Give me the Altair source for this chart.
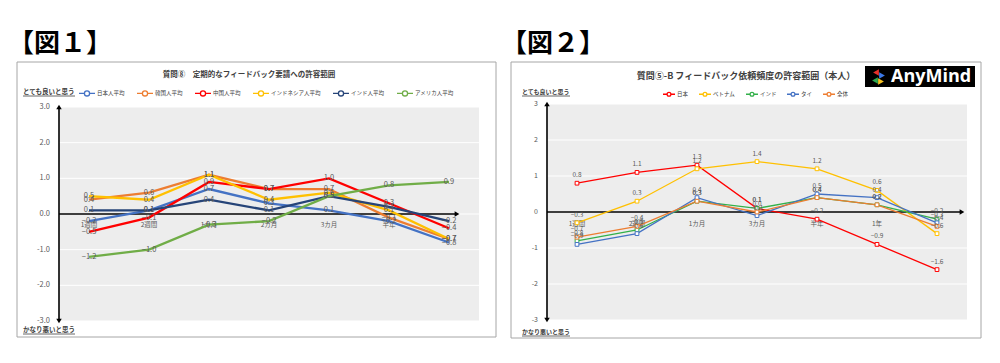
import altair as alt
import pandas as pd

FONT = "Noto Sans CJK JP"

# ---------------- 図1 data ----------------
heading1 = "【図１】"
title1 = "質問⑧　定期的なフィードバック要請への許容範囲"
cats1 = ["1週間", "2週間", "1カ月", "2カ月", "3カ月", "半年", "1年"]
catlabels1 = ["1週間", "2週間", "1カ月", "2カ月", "3カ月", "半年", ""]
series1 = ["日本人平均", "韓国人平均", "中国人平均", "インドネシア人平均", "インド人平均", "アメリカ人平均"]
colors1 = ["#4472C4", "#ED7D31", "#FF0000", "#FFC000", "#264478", "#70AD47"]
japan1 = [-0.2, 0.1, 0.7, 0.3, 0.1, -0.2, -0.8]
korea1 = [0.4, 0.6, 1.1, 0.7, 0.7, -0.1, -0.7]
china1 = [-0.5, -0.1, 0.9, 0.7, 1.0, 0.3, -0.4]
indonesia1 = [0.5, 0.4, 1.1, 0.4, 0.6, 0.1, -0.7]
india1 = [0.1, 0.1, 0.4, 0.1, 0.5, 0.2, -0.2]
usa1 = [-1.2, -1.0, -0.3, -0.2, 0.5, 0.8, 0.9]
yticks1 = [-3, -2, -1, 0, 1, 2, 3]
yticklabels1 = ["-3.0", "-2.0", "-1.0", "0.0", "1.0", "2.0", "3.0"]

# ---------------- 図2 data ----------------
heading2 = "【図２】"
title2 = "質問⑤-B フィードバック依頼頻度の許容範囲（本人）"
cats2 = ["1週間", "2週間", "1カ月", "3カ月", "半年", "1年", "1年以上"]
catlabels2 = ["1週間", "2週間", "1カ月", "3カ月", "半年", "1年", ""]
series2 = ["日本", "ベトナム", "インド", "タイ", "全体"]
colors2 = ["#FF0000", "#FFC000", "#33B04A", "#4472C4", "#ED7D31"]
japan2 = [0.8, 1.1, 1.3, 0.1, -0.2, -0.9, -1.6]
vietnam2 = [-0.3, 0.3, 1.2, 1.4, 1.2, 0.6, -0.6]
india2 = [-0.8, -0.5, 0.3, 0.1, 0.4, 0.2, -0.2]
thai2 = [-0.9, -0.6, 0.4, -0.1, 0.5, 0.4, -0.3]
total2 = [-0.7, -0.4, 0.3, 0.0, 0.4, 0.2, -0.4]
yticks2 = [-3, -2, -1, 0, 1, 2, 3]
yticklabels2 = ["-3", "-2", "-1", "0", "1", "2", "3"]

top_label = "とても良いと思う"
bottom_label = "かなり悪いと思う"

SYMBOL = "M-1,0L-0.32,0M0.32,0L1,0M0.32,0A0.32,0.32,0,1,1,-0.32,0A0.32,0.32,0,1,1,0.32,0"


def one():
    return pd.DataFrame({"k": [0]})


def build(cats, catlabels, series, colors, values, yticks, yticklabels,
          title, heading, L):
    rows = []
    for s, vals in zip(series, values):
        for i, (c, v) in enumerate(zip(cats, vals)):
            rows.append({"cat": c, "s": s, "v": v, "i": i})
    df = pd.DataFrame(rows)
    cat_df = pd.DataFrame({"cat": cats, "lab": catlabels})
    tick_df = pd.DataFrame({"v": yticks, "lab": yticklabels})

    xs = alt.Scale(domain=cats, range=[L["x0"], L["x1"]], paddingInner=0, paddingOuter=0)
    ys = alt.Scale(domain=[-3, 3], range=[L["ybot"], L["ytop"]], nice=False, zero=False)
    X = alt.X("cat:N", scale=xs, axis=None)
    Y = alt.Y("v:Q", scale=ys, axis=None)

    layers = []
    # box border
    layers.append(alt.Chart(one()).mark_rect(fillOpacity=0, stroke="#A6A6A6", strokeWidth=1).encode(
        x=alt.value(L["bx0"]), x2=alt.value(L["bx1"]), y=alt.value(L["by0"]), y2=alt.value(L["by1"])))
    # plot background
    layers.append(alt.Chart(tick_df).mark_rect(color="#EDEDED").transform_aggregate(
        lo="min(v)", hi="max(v)").encode(
        x=alt.value(L["x0"]), x2=alt.value(L["x1"]), y=alt.Y("hi:Q", scale=ys, axis=None), y2="lo:Q"))
    # grid
    layers.append(alt.Chart(tick_df).mark_rule(color="white", strokeWidth=1).encode(
        y=Y, x=alt.value(L["x0"]), x2=alt.value(L["x1"])))
    # y tick labels
    layers.append(alt.Chart(tick_df).mark_text(align="right", baseline="middle", fontSize=L["tickfs"],
                                               color="#595959", font=FONT).encode(
        y=Y, x=alt.value(L["ylabx"]), text="lab:N"))
    # axes arrows
    layers.append(alt.Chart(tick_df).mark_rule(color="black", strokeWidth=1.6).transform_aggregate(
        lo="min(v)", hi="max(v)").encode(
        x=alt.value(L["x0"]), y=alt.Y("hi:Q", scale=ys, axis=None), y2="lo:Q"))
    ends = pd.DataFrame({"v": [yticks[-1], yticks[0]], "shape": ["triangle-up", "triangle-down"]})
    layers.append(alt.Chart(ends).mark_point(filled=True, color="black", size=30, opacity=1).encode(
        x=alt.value(L["x0"]), y=Y, shape=alt.Shape("shape:N", scale=None, legend=None)))
    zero_df = pd.DataFrame({"v": [0]})
    layers.append(alt.Chart(zero_df).mark_rule(color="black", strokeWidth=1.6).encode(
        x=alt.value(L["x0"]), x2=alt.value(L["xarrow"]), y=Y))
    layers.append(alt.Chart(zero_df).mark_point(shape="triangle-right", filled=True, color="black", size=30, opacity=1).encode(
        x=alt.value(L["xarrow"]), y=Y))
    # category labels
    cat_df["v"] = 0
    layers.append(alt.Chart(cat_df).mark_text(baseline="middle", fontSize=L["catfs"], color="#595959",
                                              font=FONT, dy=L["catdy"]).encode(
        x=X, y=Y, text="lab:N"))
    # lines
    if L["points"]:
        line_mark = alt.Chart(df).mark_line(strokeWidth=L["lw"], point=alt.OverlayMarkDef(
            shape="square", filled=False, fill="white", size=14, strokeWidth=1, opacity=1))
    else:
        line_mark = alt.Chart(df).mark_line(strokeWidth=L["lw"])
    layers.append(line_mark.encode(
        x=X, y=Y, order=alt.Order("i:Q"),
        color=alt.Color("s:N", scale=alt.Scale(domain=series, range=colors), legend=alt.Legend(
            title=None, orient="none", legendX=L["legx"], legendY=L["legy"], direction="horizontal",
            columns=len(series), symbolType=SYMBOL, symbolSize=L["symsize"], symbolStrokeWidth=1.3,
            symbolFillColor="white", labelFontSize=L["legfs"], labelFont=FONT, labelColor="#404040",
            columnPadding=L["colpad"], labelOffset=1, padding=0, rowPadding=0))))
    # data labels
    layers.append(alt.Chart(df).mark_text(fontSize=L["datafs"], color="#595959", font=FONT,
                                          dy=L["datady"], baseline="middle").encode(
        x=X, y=Y, text=alt.Text("v:Q", format=".1f")))
    # texts
    layers.append(alt.Chart(one()).mark_text(align="left", baseline="alphabetic", fontSize=26,
                                             fontWeight="bold", color="black", font=FONT).encode(
        x=alt.value(L["hx"]), y=alt.value(44), text=alt.value(heading)))
    layers.append(alt.Chart(one()).mark_text(align="center", baseline="middle", fontSize=L["titlefs"],
                                             fontWeight="bold", color="#404040", font=FONT).encode(
        x=alt.value(L["tx"]), y=alt.value(L["ty"]), text=alt.value(title)))
    for txt, yy in [(top_label, L["topy"]), (bottom_label, L["boty"])]:
        layers.append(alt.Chart(one()).mark_text(align="left", baseline="middle", fontSize=L["sidefs"],
                                                 fontWeight="bold", color="#404040", font=FONT).encode(
            x=alt.value(L["sidex"]), y=alt.value(yy), text=alt.value(txt)))
        layers.append(alt.Chart(one()).mark_rule(color="#404040", strokeWidth=0.8).encode(
            x=alt.value(L["sidex"]), x2=alt.value(L["sidex"] + L["sidew"]), y=alt.value(yy + 4)))
    if L.get("logo"):
        lx, ly = L["logo"]
        layers.append(alt.Chart(one()).mark_rect(color="black").encode(
            x=alt.value(lx), x2=alt.value(lx + 110), y=alt.value(ly), y2=alt.value(ly + 21)))
        layers.append(alt.Chart(one()).mark_text(align="left", baseline="middle", fontSize=18,
                                                 fontWeight="bold", color="white", font="Open Sans").encode(
            x=alt.value(lx + 26), y=alt.value(ly + 11), text=alt.value("AnyMind")))
        for (dx, dy, shp, col) in [(-2, -4, "triangle-left", "#E8302A"), (4, -1, "triangle-right", "#3B78E7"),
                                   (-3, 4, "triangle-left", "#2DA94F"), (3, 5, "triangle-right", "#F7C320")]:
            layers.append(alt.Chart(one()).mark_point(shape=shp, filled=True, size=45, color=col, opacity=1).encode(
                x=alt.value(lx + 13 + dx), y=alt.value(ly + 10.5 + dy)))
    return alt.layer(*layers).properties(width=L["w"], height=347)


L1 = dict(w=492, x0=51, x1=471, ybot=313, ytop=99, xarrow=449, bx0=9, bx1=488, by0=54, by1=329,
          ylabx=42, tickfs=7.5, catfs=6.5, catdy=11, lw=2.3, points=False, legx=70, legy=76,
          symsize=256, legfs=5.5, colpad=9, datafs=7.5, datady=0, hx=0, tx=241, ty=67, titlefs=7.5,
          topy=84, boty=322, sidex=15, sidefs=6.5, sidew=52)
L2 = dict(w=492, x0=47, x1=467, ybot=312, ytop=96, xarrow=462, bx0=11, bx1=481, by0=54, by1=330,
          ylabx=38, tickfs=7, catfs=6.5, catdy=12, lw=1.3, points=True, legx=162, legy=79,
          symsize=144, legfs=5.5, colpad=7, datafs=6.5, datady=-8, hx=1, tx=246, ty=68, titlefs=9,
          topy=84, boty=324, sidex=22, sidefs=6, sidew=48, logo=(365, 58))

p1 = build(cats1, catlabels1, series1, colors1, [japan1, korea1, china1, indonesia1, india1, usa1],
           yticks1, yticklabels1, title1, heading1, L1)
p2 = build(cats2, catlabels2, series2, colors2, [japan2, vietnam2, india2, thai2, total2],
           yticks2, yticklabels2, title2, heading2, L2)

chart = alt.hconcat(p1, p2, spacing=0).resolve_scale(
    x="independent", y="independent", color="independent").resolve_legend(color="independent").properties(
    padding=0, background="white").configure_view(stroke=None)

chart.save("out.html", embed_options={"renderer": "svg", "actions": False})
